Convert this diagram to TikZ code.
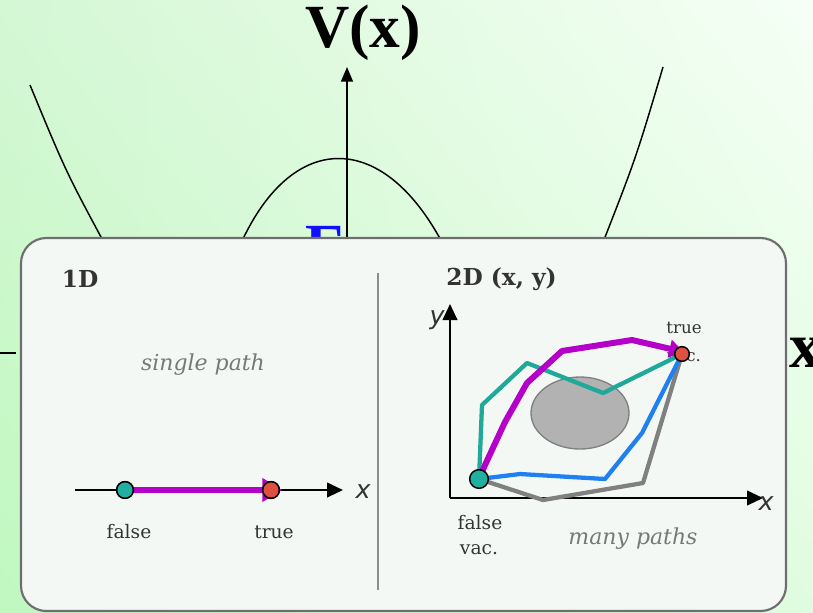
\documentclass[tikz,border=0pt]{standalone}
\usepackage{fontspec}
\setmainfont{DejaVu Serif}
\newfontfamily\lserif{Liberation Serif}
\newfontfamily\dsans{DejaVu Sans}
\usetikzlibrary{arrows.meta,shapes.geometric,shadings}
\definecolor{bgUL}{RGB}{212,247,212}
\definecolor{bgLL}{RGB}{192,248,192}
\definecolor{bgUR}{RGB}{246,255,246}
\definecolor{bgLR}{RGB}{224,252,224}
\definecolor{panelfill}{RGB}{244,248,245}
\definecolor{panelline}{RGB}{110,110,110}
\definecolor{txtdark}{RGB}{51,51,51}
\definecolor{txtgray}{RGB}{120,120,120}
\definecolor{magpath}{RGB}{180,0,200}
\definecolor{tealpath}{RGB}{32,168,152}
\definecolor{bluepath}{RGB}{32,128,240}
\definecolor{graypath}{RGB}{128,128,128}
\definecolor{tealdot}{RGB}{32,176,160}
\definecolor{reddot}{RGB}{224,80,64}
\definecolor{Eblue}{RGB}{16,16,255}
\tikzset{
  curve/.style={line width=1.1pt,black},
  axisarrow/.style={line width=1.5pt,-{Triangle[length=12pt,width=11pt]}},
  dot/.style={circle,draw=black,line width=1.1pt,minimum size=#1,inner sep=0pt},
  lbl/.style={text=txtdark,font=\fontsize{14}{16}\selectfont,inner sep=0pt},
  ital/.style={text=txtgray,font=\itshape\fontsize{16.5}{18}\selectfont,inner sep=0pt},
  axlbl/.style={text=txtdark,font=\dsans\itshape\fontsize{19}{21}\selectfont,inner sep=0pt},
  head/.style={text=txtdark,font=\bfseries\fontsize{17.5}{19}\selectfont,inner sep=0pt},
  pathline/.style={line width=3.2pt,line join=round},
}
\begin{document}
\begin{tikzpicture}[x=0.75pt,y=-0.75pt]
\useasboundingbox (0,0) rectangle (813,612);
\shade[upper left=bgUL,lower left=bgLL,upper right=bgUR,lower right=bgLR] (0,0) rectangle (813,612);

% background potential plot
\node[font=\lserif\bfseries\fontsize{46}{46}\selectfont,inner sep=0pt] (vx) at (363,33) {V(x)};
\coordinate (vbase) at (347,260);
\coordinate (vtip) at (347,67);
\draw[line width=1.1pt,-{Triangle[length=11pt,width=9pt]}] (vbase) -- (vtip);
\draw[curve] (30,85) .. controls (66,172) .. (108,250);
\draw[curve] (663,67) .. controls (636,158) .. (600,250);
\draw[curve] (238,250) .. controls (290,128) and (385,128) .. (446,250);
\coordinate (xl0) at (0,353);
\coordinate (xl1) at (16,353);
\draw[line width=1.2pt] (xl0) -- (xl1);
\node[font=\lserif\bfseries\fontsize{48}{48}\selectfont,inner sep=0pt,anchor=west] (bigx) at (789,353) {x};
\node[font=\lserif\bfseries\fontsize{46}{46}\selectfont,text=Eblue,inner sep=0pt,anchor=north west] (E) at (305,226) {E};
\node[font=\lserif\bfseries\fontsize{26}{26}\selectfont,inner sep=0pt,anchor=north west] (Etxt) at (372,239) {- false vac.};

% panel
\draw[fill=panelfill,draw=panelline,line width=1.6pt,rounded corners=19pt] (21,238) rectangle (786,611);
\coordinate (d0) at (378,273);
\coordinate (d1) at (378,590);
\draw[line width=1.1pt,draw=black!45] (d0) -- (d1);

% 1D
\node[head] (h1) at (80,279) {1D};
\node[ital] (sp) at (203,365) {single path};
\coordinate (a1s) at (75,490);
\coordinate (a1e) at (343,490);
\draw[axisarrow] (a1s) -- (a1e);
\node[axlbl] (x1) at (363,492) {x};
\node[dot=12.5pt,fill=tealdot] (F1) at (125,490) {};
\node[dot=12.5pt,fill=reddot] (T1) at (271,490) {};
\draw[magpath,line width=4.5pt,-{Triangle[length=15pt,width=17pt]}] (F1.east) -- ([xshift=8.5pt]T1.center);
\node[dot=12.5pt,fill=tealdot] at (F1) {};
\node[dot=12.5pt,fill=reddot] at (T1) {};
\node[lbl] (lf) at (129,532) {false};
\node[lbl] (lt) at (274,532) {true};

% 2D
\node[head,anchor=west] (h2) at (446,279) {2D (x, y)};
\coordinate (o2) at (450,498);
\coordinate (ytip) at (450,304);
\coordinate (xtip) at (763,498);
\draw[axisarrow] (o2) -- (ytip);
\draw[axisarrow] (o2) -- (xtip);
\node[axlbl] (ylab) at (437,320) {y};
\node[axlbl] (xlab) at (766,504) {x};
\node[ellipse,draw=graypath,fill=black!30,line width=1pt,minimum width=73.5pt,minimum height=54pt,inner sep=0pt] (blob) at (580,413) {};
\node[lbl,font=\fontsize{12.5}{14}\selectfont] (tt) at (684,328) {true};
\node[lbl,font=\fontsize{12.5}{14}\selectfont] (tv) at (684,357) {vac.};
\coordinate (F2) at (479,479);
\coordinate (T2) at (682,354);
\draw[pathline,graypath] (F2) -- (543,500) -- (643,483) -- (T2);
\draw[pathline,bluepath] (F2) -- (520,474) -- (605,479) -- (642,433) -- (T2);
\draw[pathline,tealpath] (F2) -- (482,405) -- (527,363) -- (603,393) -- (T2);
\draw[magpath,line width=4.5pt,line join=round,-{Triangle[length=11pt,width=13pt]}] (F2) -- (485,465) -- (505,422) -- (527,383) -- (562,351) -- (632,340) -- (684,352);
\node[dot=14pt,fill=tealdot] (F2n) at (F2) {};
\node[dot=11pt,fill=reddot] (T2n) at (T2) {};
\node[lbl] (lfv1) at (480,523) {false};
\node[lbl] (lfv2) at (479,550) {vac.};
\node[ital] (mp) at (633,539) {many paths};
\end{tikzpicture}
\end{document}
